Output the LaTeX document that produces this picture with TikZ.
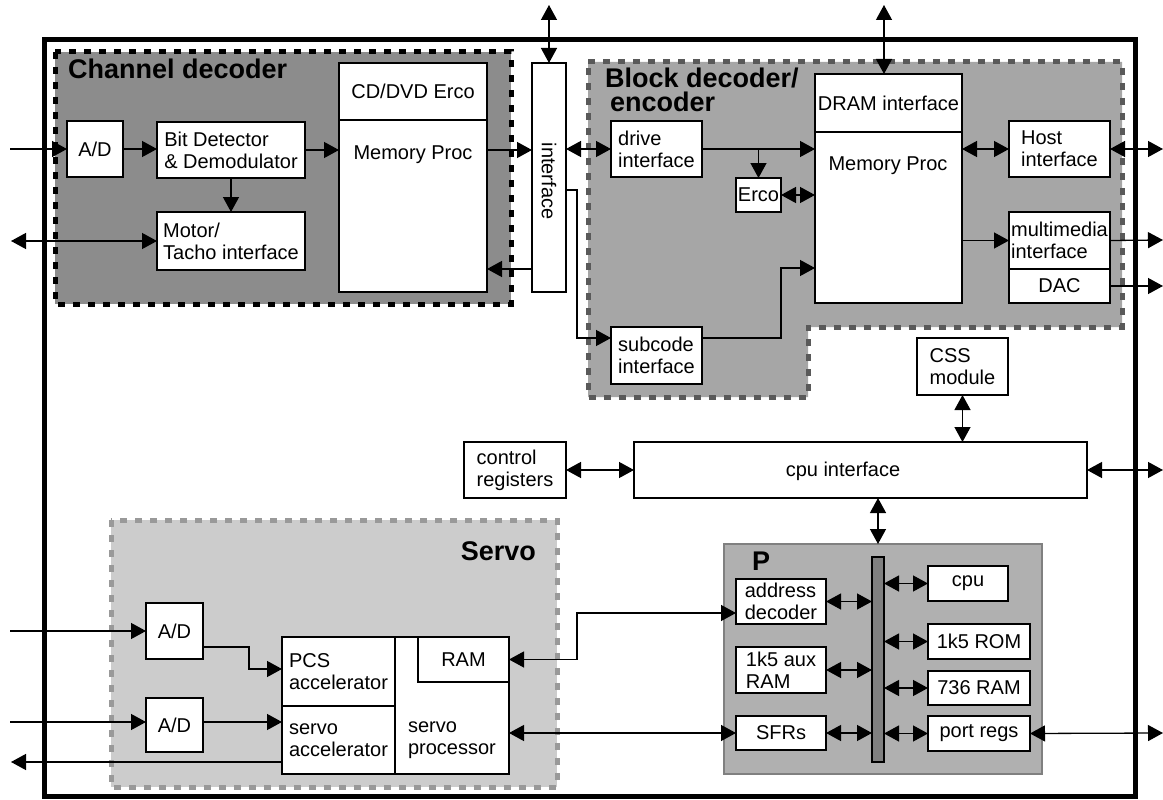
\documentclass[tikz,border=0pt]{standalone}
\usepackage{fontspec}
\setmainfont{Liberation Sans}
\usetikzlibrary{arrows.meta,positioning,calc}
\tikzset{
  blk/.style={draw=black, line width=1.3pt, fill=white, inner sep=0pt, outer sep=0pt,
    align=left, anchor=north west},
  blkbox/.style 2 args={blk, minimum width=#1, minimum height=#2},
  lbl/.style={inner sep=0pt, align=left},
  title/.style={inner sep=0pt, align=left, font=\fontsize{27}{24}\selectfont\bfseries},
  chanreg/.style={fill=black!45, draw=black, line width=5pt, dash pattern=on 7pt off 8pt},
  blkreg/.style={fill=black!35, draw=black!65, line width=5pt, dash pattern=on 7pt off 8pt},
  servoreg/.style={fill=black!20, draw=black!40, line width=5pt, dash pattern=on 7pt off 8pt},
  pframe/.style={fill=black!31, draw=black!50, line width=1.3pt, inner sep=0pt, outer sep=0pt,
    anchor=north west},
  busbar/.style={fill=black!50, draw=black, line width=1.3pt, inner sep=0pt, outer sep=0pt,
    anchor=north west},
  flow/.style={-{Triangle[length=15pt, width=16pt]}, line width=1.3pt},
  biflow/.style={{Triangle[length=15pt, width=16pt]}-{Triangle[length=15pt, width=16pt]},
    line width=1.3pt},
}

\begin{document}
\begin{tikzpicture}[x=1pt, y=-1pt, font=\fontsize{20}{22}\selectfont]
  \useasboundingbox (0,0) rectangle (1163,800);
  % chip outline and the three decoder regions
  \draw[line width=5pt] (44,40) rectangle (1135,796);
  \draw[chanreg] (55,52) rectangle (511,304);
  \draw[blkreg] (588,62) -- (1122,62) -- (1122,327) -- (808,327) -- (808,397)
    -- (588,397) -- cycle;
  \draw[servoreg] (111,520) rectangle (557,787);
  \node[title, anchor=base west] (chtitle) at (68,78) {Channel decoder};
  \node[title, anchor=north west] (bltitle) at (605,68) {Block decoder/\\\hspace*{5pt}encoder};
  \node[title, anchor=base east] (svtitle) at (536,560) {Servo};

  % channel decoder
  \node[blkbox={56pt}{56pt}] (adc) at (67,121) {A/D};
  \node[blkbox={148pt}{56pt}] (bitdet) at (157,122) {Bit Detector\\\& Demodulator};
  \node[blkbox={148pt}{58pt}] (motor) at (157,212) {Motor/\\Tacho interface};
  \node[blkbox={148pt}{57pt}] (cderco) at (339,63) {CD/DVD Erco};
  \node[blkbox={148pt}{172pt}] (memproc1) at (339,120) {};
  \node[lbl] (mp1txt) at (413,155) {Memory Proc};
  \node[blkbox={34pt}{229pt}] (iface) at (532,63) {};
  \node[lbl, rotate=-90] (iftxt) at (549,181) {interface};

  % block decoder / encoder
  \node[blkbox={91pt}{56pt}] (drive) at (611,121) {drive\\interface};
  \node[blkbox={45pt}{34pt}] (erco) at (736,178) {Erco};
  \node[blkbox={147pt}{58pt}] (dram) at (815,74) {DRAM interface};
  \node[blkbox={147pt}{171pt}] (memproc2) at (815,132) {};
  \node[lbl] (mp2txt) at (888,166) {Memory Proc};
  \node[blkbox={101pt}{56pt}] (host) at (1009,121) {Host\\interface};
  \node[blkbox={101pt}{57pt}] (mmedia) at (1009,212) {multimedia\\interface};
  \node[blkbox={101pt}{34pt}] (dac) at (1009,269) {DAC};
  \node[blkbox={91pt}{57pt}] (subcode) at (611,327) {subcode\\interface};
  \node[blkbox={91pt}{57pt}] (css) at (917,338) {CSS\\module};

  % cpu interface
  \node[blkbox={102pt}{56pt}] (ctrlreg) at (464,442) {control\\registers};
  \node[blkbox={453pt}{56pt}] (cpuif) at (634,442) {};
  \node[lbl] (cpuiftxt) at (843,471) {cpu interface};

  % micro controller
  \node[pframe, minimum width=318pt, minimum height=230pt] (pbox) at (724,544) {};
  \node[title, anchor=base west] (ptitle) at (752,570) {P};
  \node[busbar, minimum width=12pt, minimum height=205pt] (bus) at (872,557) {};
  \node[blkbox={90pt}{45pt}] (addrdec) at (736,579) {address\\decoder};
  \node[blkbox={90pt}{46pt}] (auxram) at (736,647) {1k5 aux\\RAM};
  \node[blkbox={90pt}{34pt}] (sfrs) at (736,716) {SFRs};
  \node[blkbox={80pt}{35pt}] (cpu) at (928,566) {cpu};
  \node[blkbox={102pt}{35pt}] (rom) at (928,624) {1k5 ROM};
  \node[blkbox={102pt}{34pt}] (iram) at (928,671) {736 RAM};
  \node[blkbox={102pt}{35pt}] (portregs) at (928,716) {port regs};

  % servo
  \node[blkbox={57pt}{56pt}] (adca) at (146,603) {A/D};
  \node[blkbox={57pt}{54pt}] (adcb) at (146,698) {A/D};
  \node[blkbox={113pt}{69pt}] (pcs) at (282,637) {PCS\\accelerator};
  \node[blkbox={113pt}{68pt}] (sacc) at (282,706) {servo\\accelerator};
  \node[blkbox={114pt}{137pt}] (sproc) at (395,637) {};
  \node[lbl] (sproctxt) at (452,740) {servo\\processor};
  \node[blkbox={91pt}{45pt}] (sram) at (418,637) {RAM};

  % free ends at the border of the picture
  \coordinate (inCh) at (10,149);
  \coordinate (outMt) at (11,241);
  \coordinate (topIf) at (549,5);
  \coordinate (topDr) at (884,5);
  \coordinate (outHost) at (1163,149);
  \coordinate (outMm) at (1163,240);
  \coordinate (outDac) at (1163,286);
  \coordinate (outCpu) at (1163,470);
  \coordinate (outPort) at (1163,733);
  \coordinate (inSa) at (10,631);
  \coordinate (inSb) at (10,722);
  \coordinate (outSv) at (11,762);

  % connectors, channel decoder
  \draw[flow] (inCh) -- (adc.west);
  \draw[flow] (adc.east) -- (adc.east -| bitdet.west);
  \draw[flow] (bitdet.east) -- (bitdet.east -| memproc1.west);
  \draw[flow] (bitdet.south) -- (motor.north);
  \draw[biflow] (outMt) -- (motor.west);
  \draw[flow] (bitdet.east -| memproc1.east) -- (bitdet.east -| iface.west);
  \draw[flow] ([yshift=23pt]iface.south west) -- ([yshift=23pt]memproc1.south east);
  \draw[biflow] (topIf) -- (iface.north);

  % connectors, block decoder
  \draw[biflow] (iface.east |- drive.west) -- (drive.west);
  \draw[flow] ([yshift=-127pt]iface.north east) -- ++(11,0) |- ([yshift=-11pt]subcode.north west);
  \draw[flow] (drive.east) -- (drive.east -| memproc2.west);
  \draw[flow] (drive.east -| erco.north) -- (erco.north);
  \draw[biflow] (erco.east) -- (erco.east -| memproc2.west);
  \draw[flow] ([yshift=-11pt]subcode.north east) -- ++(79,0) |- ([yshift=35pt]memproc2.south west);
  \draw[biflow] (topDr) -- (topDr |- dram.north);
  \draw[biflow] (host.west -| memproc2.east) -- (host.west);
  \draw[biflow] (host.east) -- (outHost);
  \draw[flow] (mmedia.west -| memproc2.east) -- (mmedia.west);
  \draw[flow] (mmedia.east) -- (outMm);
  \draw[flow] (dac.east) -- (outDac);

  % connectors, cpu interface and micro controller
  \draw[biflow] (css.south) -- (css.south |- cpuif.north);
  \draw[biflow] (ctrlreg.east) -- (cpuif.west);
  \draw[biflow] (cpuif.east) -- (outCpu);
  \draw[biflow] (bus.north |- cpuif.south) -- (bus.north |- pbox.north);
  \draw[biflow] (addrdec.east) -- (addrdec.east -| bus.west);
  \draw[biflow] (auxram.east) -- (auxram.east -| bus.west);
  \draw[biflow] (sfrs.east) -- (sfrs.east -| bus.west);
  \draw[biflow] (bus.east |- cpu.west) -- (cpu.west);
  \draw[biflow] (bus.east |- rom.west) -- (rom.west);
  \draw[biflow] (bus.east |- iram.west) -- (iram.west);
  \draw[biflow] (bus.east |- portregs.west) -- (portregs.west);
  \draw[biflow] (portregs.east) -- (outPort);

  % connectors, servo
  \draw[biflow] (sfrs.west) -- (sfrs.west -| sproc.east);
  \draw[biflow] ([yshift=-34pt]addrdec.north west) -- ++(-159,0) |- (sram.east);
  \draw[flow] (inSa) -- (adca.west);
  \draw[flow] ([yshift=-44pt]adca.north east) -- ++(46,0) |- ([yshift=-32pt]pcs.north west);
  \draw[flow] (inSb) -- (inSb -| adcb.west);
  \draw[flow] (inSb -| adcb.east) -- (inSb -| sacc.west);
  \draw[flow] ([yshift=12pt]sacc.south west) -- (outSv);
\end{tikzpicture}
\end{document}
